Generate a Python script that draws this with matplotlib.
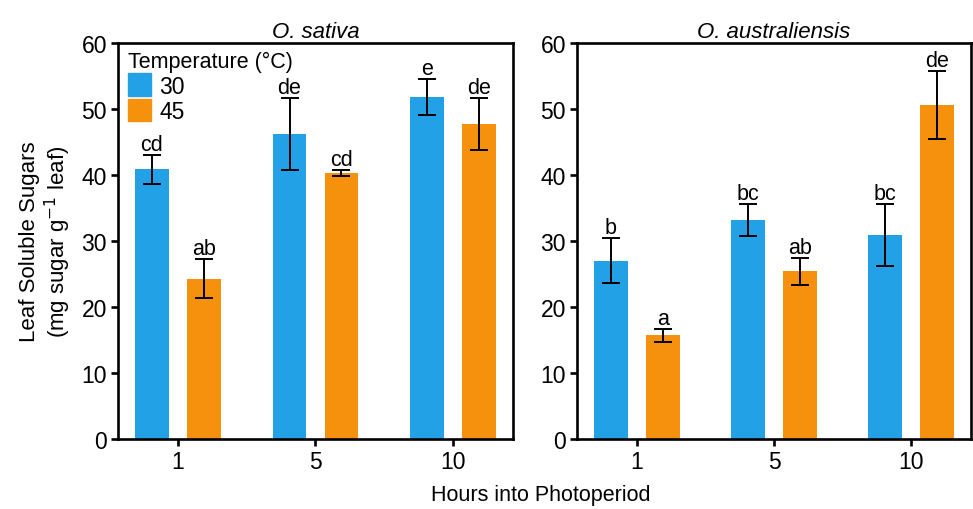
import matplotlib
matplotlib.use("Agg")
import matplotlib.pyplot as plt
import matplotlib.patches as mpatches
import numpy as np

plt.rcParams["font.family"] = ["Liberation Sans", "DejaVu Sans"]

# ---------------------------------------------------------------------------
# Data
# ---------------------------------------------------------------------------
hours = ["1", "5", "10"]
temps = ["30", "45"]

sativa_30 = [40.9, 46.2, 51.8]
sativa_30_err = [2.2, 5.5, 2.7]
sativa_45 = [24.3, 40.3, 47.7]
sativa_45_err = [3.0, 0.4, 3.9]
sativa_30_letters = ["cd", "de", "e"]
sativa_45_letters = ["ab", "cd", "de"]

aus_30 = [27.0, 33.2, 30.9]
aus_30_err = [3.4, 2.45, 4.7]
aus_45 = [15.7, 25.4, 50.6]
aus_45_err = [1.0, 2.0, 5.1]
aus_30_letters = ["b", "bc", "bc"]
aus_45_letters = ["a", "ab", "de"]

# ---------------------------------------------------------------------------
# Style
# ---------------------------------------------------------------------------
BLUE = "#22a1e6"
ORANGE = "#f6910e"
BAR_W = 0.247
OFFSET = 0.189
SPINE_LW = 1.9
FS = 16.5


def panel(ax, vals30, err30, vals45, err45, let30, let45, title):
    x = np.arange(len(hours))
    for xs, v, e, c, lets in [(x - OFFSET, vals30, err30, BLUE, let30),
                              (x + OFFSET, vals45, err45, ORANGE, let45)]:
        ax.bar(xs, v, width=BAR_W, color=c, zorder=2)
        ax.errorbar(xs, v, yerr=e, fmt="none", ecolor="black",
                    elinewidth=1.4, capsize=6.5, capthick=1.4, zorder=3)
        for xi, vi, ei, t in zip(xs, v, e, lets):
            ax.text(xi, vi + ei, t, ha="center", va="bottom",
                    fontsize=15.5)
    ax.set_xlim(-0.436, 2.436)
    ax.set_ylim(0, 60)
    ax.set_yticks(range(0, 61, 10))
    ax.set_xticks(x)
    ax.set_xticklabels(hours)
    ax.tick_params(axis="both", labelsize=FS, width=SPINE_LW, length=5,
                   direction="out", pad=3)
    for s in ax.spines.values():
        s.set_linewidth(SPINE_LW)
    ax.set_title(title, fontsize=16, style="italic", pad=4)


fig = plt.figure(figsize=(9.73, 5.10), dpi=100)
ax1 = fig.add_axes([0.1213, 0.1373, 0.4059, 0.7765])
ax2 = fig.add_axes([0.5930, 0.1373, 0.4050, 0.7765])

panel(ax1, sativa_30, sativa_30_err, sativa_45, sativa_45_err,
      sativa_30_letters, sativa_45_letters, "O. sativa")
panel(ax2, aus_30, aus_30_err, aus_45, aus_45_err,
      aus_30_letters, aus_45_letters, "O. australiensis")

ax1.set_ylabel("Leaf Soluble Sugars\n(mg sugar g$^{-1}$ leaf)", fontsize=16,
               linespacing=1.15)
ax1.yaxis.set_label_coords(-0.113, 0.5)

handles = [mpatches.Patch(color=BLUE, label=temps[0]),
           mpatches.Patch(color=ORANGE, label=temps[1])]
leg = ax1.legend(handles=handles, title="Temperature (°C)", loc="upper left",
                 frameon=False, fontsize=FS, title_fontsize=15.5,
                 handlelength=1.0, handleheight=1.15, handletextpad=0.35,
                 labelspacing=0.05, borderaxespad=0.0, borderpad=0.1,
                 bbox_to_anchor=(0.02, 0.985))
leg._legend_box.align = "left"

fig.text(0.556, 0.028, "Hours into Photoperiod", ha="center", va="center",
         fontsize=15.5)

fig.savefig("out.png", dpi=100)
